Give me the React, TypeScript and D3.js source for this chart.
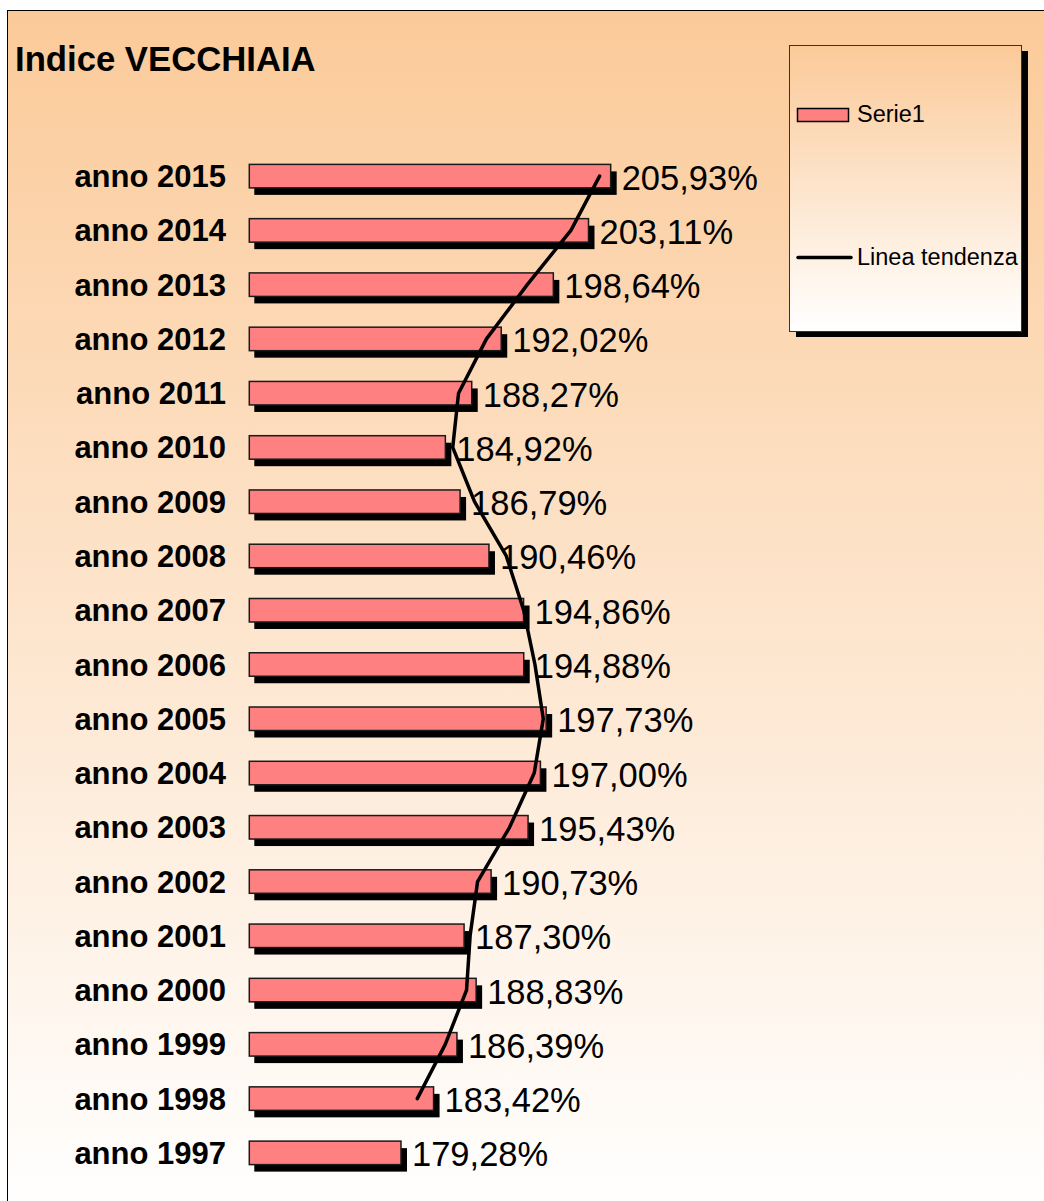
import React from "react";
import * as d3 from "d3";

const years: string[] = [
  "1997","1998","1999","2000","2001","2002","2003","2004","2005","2006",
  "2007","2008","2009","2010","2011","2012","2013","2014","2015",
];
const values: number[] = [
  179.28, 183.42, 186.39, 188.83, 187.3, 190.73, 195.43, 197.0, 197.73, 194.88,
  194.86, 190.46, 186.79, 184.92, 188.27, 192.02, 198.64, 203.11, 205.93,
];
const title = "Indice VECCHIAIA";
const seriesName = "Serie1";
const trendName = "Linea tendenza";
const xDomain: [number, number] = [160, 210];

const W = 1044;
const H = 1201;
const FONT = "'Liberation Sans', Arial, sans-serif";

export default function App() {
  const x = d3.scaleLinear().domain(xDomain).range([249.3, 642.7]);
  const y = d3
    .scaleBand<string>()
    .domain([...years].reverse())
    .range([149, 1180])
    .paddingInner(0.567)
    .paddingOuter(0.2835);
  const bw = y.bandwidth();
  const fmt = (v: number) => v.toFixed(2).replace(".", ",") + "%";

  // 2-period moving average trend line (Excel style)
  const trend = years.slice(1).map((yr, i) => ({
    yr,
    v: d3.mean([values[i], values[i + 1]]) as number,
  }));
  const line = d3
    .line<{ yr: string; v: number }>()
    .x((d) => x(d.v))
    .y((d) => (y(d.yr) as number) + bw / 2);

  const lg = { x: 789, y: 45, w: 232, h: 286 };

  return (
    <div style={{ position: "absolute", left: 0, top: 0 }}>
      <svg width={W} height={H} style={{ display: "block" }}>
        <defs>
          <linearGradient id="bg" x1="0" y1="0" x2="0" y2="1">
            <stop offset="0" stopColor="#FBCA99" />
            <stop offset="1" stopColor="#FFFFFF" />
          </linearGradient>
          <linearGradient id="lgbg" x1="0" y1="0" x2="0" y2="1">
            <stop offset="0" stopColor="#FBCA99" />
            <stop offset="1" stopColor="#FFFFFF" />
          </linearGradient>
        </defs>
        <rect x={0} y={0} width={W} height={H} fill="#fff" />
        <rect
          x={7.5}
          y={10.5}
          width={1050}
          height={1200}
          fill="url(#bg)"
          stroke="#000"
          strokeWidth={1}
        />
        <text
          x={15}
          y={71}
          fontFamily={FONT}
          fontSize={34.7}
          fontWeight="bold"
          fill="#000"
        >
          {title}
        </text>

        {/* bars */}
        {years.map((yr, i) => {
          const y0 = y(yr) as number;
          const x0 = x(xDomain[0]);
          const w = x(values[i]) - x0;
          return (
            <g key={yr}>
              <rect x={x0 + 5} y={y0 + 7} width={w + 1} height={bw} fill="#000" />
              <rect
                x={x0}
                y={y0}
                width={w}
                height={bw}
                fill="#FF8080"
                stroke="#1a1a1a"
                strokeWidth={1.5}
              />
              <text
                x={226}
                y={y0 + bw / 2 + 11}
                textAnchor="end"
                fontFamily={FONT}
                fontSize={31}
                fontWeight="bold"
                fill="#000"
              >
                {"anno " + yr}
              </text>
              <text
                x={x(values[i]) + 11}
                y={y0 + bw / 2 + 13.5}
                fontFamily={FONT}
                fontSize={34.5}
                fill="#000"
              >
                {fmt(values[i])}
              </text>
            </g>
          );
        })}

        <path
          d={line(trend) || ""}
          fill="none"
          stroke="#000"
          strokeWidth={3.5}
          strokeLinejoin="round"
          strokeLinecap="round"
        />

        {/* legend */}
        <rect x={lg.x + 7} y={lg.y + 6} width={lg.w} height={lg.h} fill="#000" />
        <rect
          x={lg.x + 0.5}
          y={lg.y + 0.5}
          width={lg.w}
          height={lg.h}
          fill="url(#lgbg)"
          stroke="#333"
          strokeWidth={1}
        />
        <rect
          x={797.5}
          y={108.5}
          width={51}
          height={13}
          fill="#FF8080"
          stroke="#000"
          strokeWidth={1.5}
        />
        <text x={857} y={122} fontFamily={FONT} fontSize={23.5} fill="#000">
          {seriesName}
        </text>
        <line
          x1={798}
          x2={851}
          y1={257.5}
          y2={257.5}
          stroke="#000"
          strokeWidth={3.5}
          strokeLinecap="round"
        />
        <text x={857} y={265} fontFamily={FONT} fontSize={23.5} fill="#000">
          {trendName}
        </text>
      </svg>
    </div>
  );
}
